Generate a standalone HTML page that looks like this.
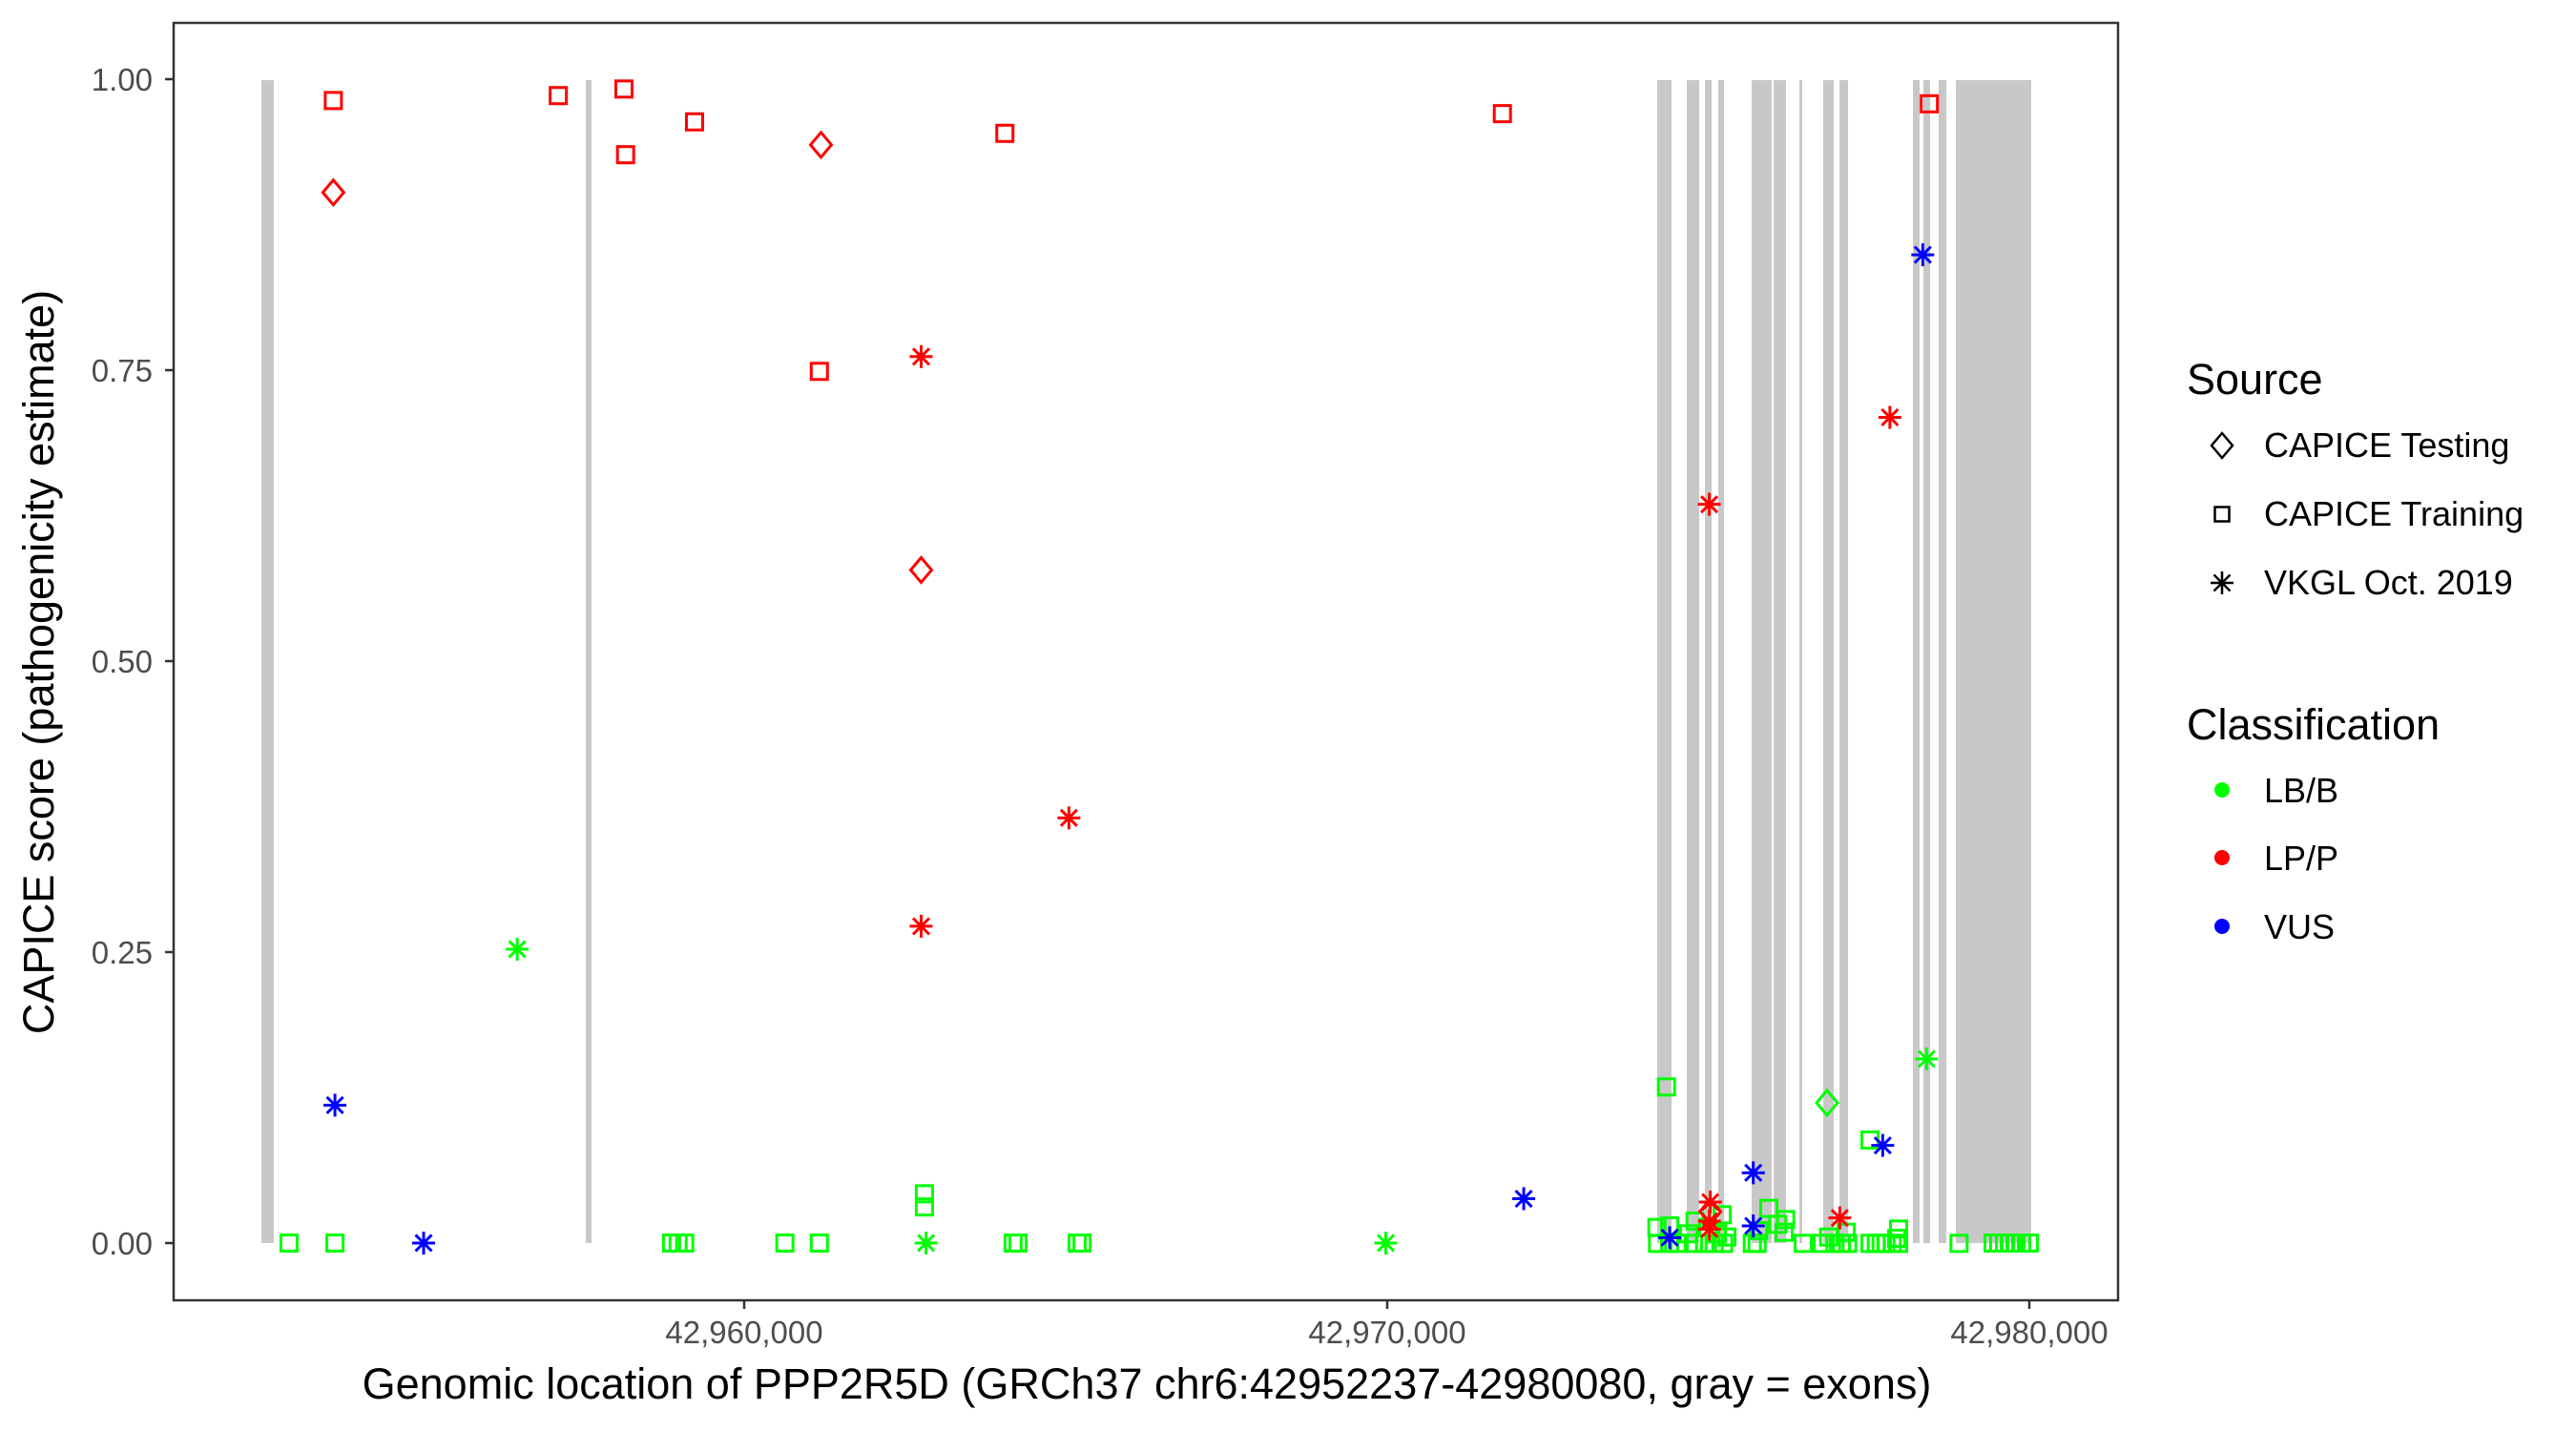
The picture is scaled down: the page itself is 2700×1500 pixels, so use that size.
<!DOCTYPE html>
<html><head><meta charset="utf-8"><style>
html,body{margin:0;padding:0;background:#fff;}
svg{display:block;}
text{font-family:"Liberation Sans",Arial,sans-serif;}
</style></head><body>
<svg id="s" xmlns="http://www.w3.org/2000/svg" width="2700" height="1500" viewBox="0 0 2700 1500">
<rect x="0" y="0" width="2700" height="1500" fill="#fff"/>
<g id="bars" fill="#c8c8c8"></g>
<g id="pts" fill="none" stroke-width="3"></g>
<rect x="182" y="24" width="2038" height="1339" fill="none" stroke="#333" stroke-width="2.5"/>
<g stroke="#333" stroke-width="2.5">
<line x1="173" y1="83" x2="182" y2="83"/><line x1="173" y1="388" x2="182" y2="388"/>
<line x1="173" y1="693" x2="182" y2="693"/><line x1="173" y1="998" x2="182" y2="998"/>
<line x1="173" y1="1303" x2="182" y2="1303"/>
<line x1="780" y1="1363" x2="780" y2="1372"/><line x1="1454" y1="1363" x2="1454" y2="1372"/>
<line x1="2127" y1="1363" x2="2127" y2="1372"/>
</g>
<g font-size="33" fill="#4d4d4d" text-anchor="end">
<text x="160" y="95">1.00</text><text x="160" y="400">0.75</text><text x="160" y="705">0.50</text>
<text x="160" y="1010">0.25</text><text x="160" y="1315">0.00</text>
</g>
<g font-size="33" fill="#4d4d4d" text-anchor="middle">
<text x="780" y="1408">42,960,000</text><text x="1454" y="1408">42,970,000</text><text x="2127" y="1408">42,980,000</text>
</g>
<text x="1202" y="1466" font-size="45" text-anchor="middle" fill="#000">Genomic location of PPP2R5D (GRCh37 chr6:42952237-42980080, gray = exons)</text>
<text transform="translate(56,694) rotate(-90)" font-size="45" text-anchor="middle" fill="#000">CAPICE score (pathogenicity estimate)</text>
<text x="2292" y="413" font-size="45" fill="#000">Source</text>
<text x="2373" y="479" font-size="36" fill="#000">CAPICE Testing</text>
<text x="2373" y="551" font-size="36" fill="#000">CAPICE Training</text>
<text x="2373" y="623" font-size="36" fill="#000">VKGL Oct. 2019</text>
<text x="2292" y="775" font-size="45" fill="#000">Classification</text>
<text x="2373" y="841" font-size="36" fill="#000">LB/B</text>
<text x="2373" y="912" font-size="36" fill="#000">LP/P</text>
<text x="2373" y="984" font-size="36" fill="#000">VUS</text>
<circle cx="2329" cy="828" r="8" fill="#00ff00"/>
<circle cx="2329" cy="899" r="8" fill="#ff0000"/>
<circle cx="2329" cy="971" r="8" fill="#0000ff"/>
<g id="leg" fill="none" stroke="#000" stroke-width="2.5"></g>
</svg>
<script>
var NS="http://www.w3.org/2000/svg";
function el(p,t,a){var e=document.createElementNS(NS,t);for(var k in a)e.setAttribute(k,a[k]);p.appendChild(e);return e;}
var bars=document.getElementById('bars'),pts=document.getElementById('pts'),leg=document.getElementById('leg');
[[274,287],[614,620],[1737,1752],[1768,1781],[1787,1794],[1801,1807],[1836,1857],[1859,1872],[1886,1889],[1911,1922],[1928,1937],[2005,2012],[2016,2023],[2032,2040],[2050,2129]].forEach(function(b){el(bars,'rect',{x:b[0],y:84,width:b[1]-b[0],height:1219});});
function sq(g,x,y,c,s){s=s||8.5;el(g,'rect',{x:x-s,y:y-s,width:2*s,height:2*s,stroke:c});}
function di(g,x,y,c){el(g,'path',{d:'M'+x+' '+(y-13)+'L'+(x+11)+' '+y+'L'+x+' '+(y+13)+'L'+(x-11)+' '+y+'Z',stroke:c});}
function as(g,x,y,c){var r=12,d='M'+(x-r)+' '+y+'H'+(x+r)+'M'+x+' '+(y-r)+'V'+(y+r)+'M'+(x-8.5)+' '+(y-8.5)+'L'+(x+8.5)+' '+(y+8.5)+'M'+(x-8.5)+' '+(y+8.5)+'L'+(x+8.5)+' '+(y-8.5);el(g,'path',{d:d,stroke:c});}
function DX(x){return x*1.721;}function DY(y){return 83+(y-48)*1.7207;}
var R='#ff0000',B='#0000ff',G='#00ff00';
var P=[
['s',R,203,61],['s',R,340,58],['s',R,380,54],['s',R,381,94],['s',R,423,74],['s',R,499,226],['s',R,612,81],['s',R,915,69],['s',R,1175,63],
['d',R,203,117],['d',R,500,88],['d',R,561,347],
['a',R,561,217],['a',R,651,498],['a',R,561,564],['a',R,1041,307],['a',R,1151,254],
['a',B,204,673],['a',B,258,757],['a',B,928,730],['a',B,1171,155],
['a',G,315,578],['a',G,564,757],['a',G,844,757],
['s',G,176,757],['s',G,204,757],['s',G,409,757],['s',G,413,757],['s',G,417,757],['s',G,478,757],['s',G,499,757],['s',G,563,727],['s',G,563,735],['s',G,617,757],['s',G,620,757],['s',G,656,757],['s',G,659,757]
];
P.forEach(function(p){var x=DX(p[2]),y=DY(p[3]);if(p[0]=='s')sq(pts,x,y,p[1]);else if(p[0]=='d')di(pts,x,y,p[1]);else as(pts,x,y,p[1]);});
var Z=[[260,710],[290,268],[300,705],[262,760],[300,760],[330,760],[380,690],[375,760],[410,760],[440,760],[465,670],[470,760],[480,740],[420,710],[360,730],[450,730],[560,760],[575,760],[580,720],[612,650],[640,700],[665,685],[660,725],[720,760],[780,760],[800,740],[820,760],[840,760],[855,725],[860,760],[930,435],[930,760],[950,760],[965,760],[980,760],[1000,760],[1020,715],[1020,760],[1210,760]];
Z.forEach(function(o){sq(pts,1650+o[0]/3,1050+o[1]/3,G);});
[[2089,1303],[2095,1303],[2101,1303],[2107,1303],[2113,1303],[2119,1303],[2127,1303]].forEach(function(o){sq(pts,o[0],o[1],G);});
sq(pts,1988,1298,G);
di(pts,1650+795/3,1050+318/3,G);
as(pts,1650+1108/3,1050+180/3,G);
di(pts,1650+428/3,1050+660/3,R);
[[300,742,B],[428,630,R],[425,690,R],[425,715,R],[563,538,B],[563,705,B],[835,680,R],[970,452,B]].forEach(function(o){as(pts,1650+o[0]/3,1050+o[1]/3,o[2]);});
di(leg,2329,467,'#000');sq(leg,2329,539,'#000',7.5);as(leg,2329,611,'#000');
</script>
</body></html>
